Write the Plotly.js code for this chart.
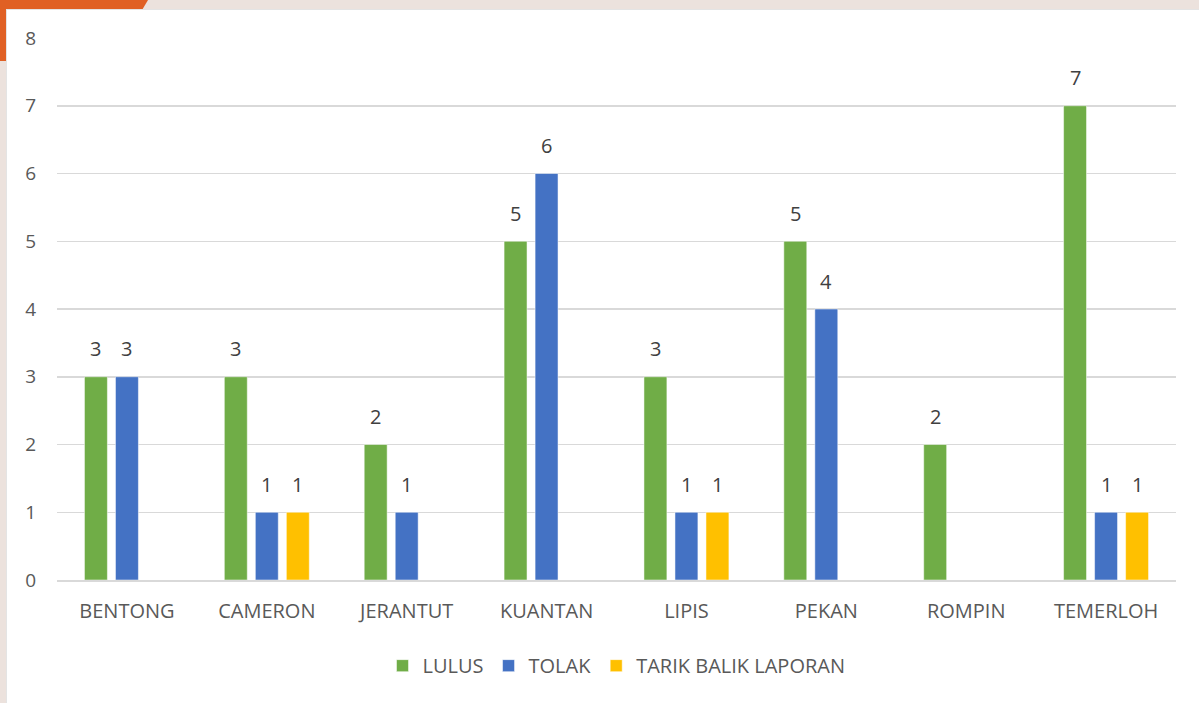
<!DOCTYPE html>
<html>
<head>
<meta charset="utf-8">
<script src="https://cdn.plot.ly/plotly-3.0.1.min.js"></script>
<style>
  html, body { margin: 0; padding: 0; width: 1199px; height: 703px; overflow: hidden; background: #ECE2DD; }
  #orangeTop { position: absolute; left: 0; top: 0; width: 148px; height: 10px; background: #E06024;
               clip-path: polygon(0 0, 100% 0, 96% 100%, 0 100%); }
  #orangeLeft { position: absolute; left: 0; top: 0; width: 6px; height: 61px; background: #E06024; }
  #panel { position: absolute; left: 6px; top: 9px; width: 1193px; height: 694px; background: #FFFFFF;
           border-left: 1px solid #E4E4E4; border-top: 1px solid #E4E4E4; box-sizing: border-box; }
  #chart { position: absolute; left: 0; top: 0; width: 1199px; height: 703px; }
</style>
</head>
<body>
<div id="orangeTop"></div>
<div id="orangeLeft"></div>
<div id="panel"></div>
<div id="chart"></div>
<script>
const categories = ["BENTONG", "CAMERON", "JERANTUT", "KUANTAN", "LIPIS", "PEKAN", "ROMPIN", "TEMERLOH"];
const lulus = [3, 3, 2, 5, 3, 5, 2, 7];
const tolak = [3, 1, 1, 6, 1, 4, null, 1];
const tarikBalik = [null, 1, null, null, 1, null, null, 1];
const seriesNames = ["LULUS", "TOLAK", "TARIK BALIK LAPORAN"];
const yTicks = [0, 1, 2, 3, 4, 5, 6, 7, 8];

const colors = ["#70AD47", "#4472C4", "#FFC000"];
const fontFam = "Open Sans, Liberation Sans, sans-serif";
const W = 1199, H = 703;
const margin = { l: 57, r: 23, t: 38, b: 123 };
const bargap = 0.335;

const seriesVals = [lulus, tolak, tarikBalik];

const data = seriesVals.map((vals, i) => ({
  type: "bar",
  name: seriesNames[i],
  x: categories,
  y: vals,
  marker: { color: colors[i], line: { color: "#FFFFFF", width: 0.5 } },
  hoverinfo: "x+y+name"
}));

// data labels as annotations so they can sit a little higher above each bar
const plotW = W - margin.l - margin.r;
const slot = plotW / categories.length * (1 - bargap) / seriesVals.length;
const annotations = [];
seriesVals.forEach((vals, i) => {
  vals.forEach((v, j) => {
    if (v === null) return;
    annotations.push({
      x: categories[j], y: v, xref: "x", yref: "y",
      text: String(v), showarrow: false,
      xshift: (i - (seriesVals.length - 1) / 2) * slot,
      yshift: 28, yanchor: "middle", xanchor: "center",
      font: { family: fontFam, size: 20, color: "#404040" }
    });
  });
});

const layout = {
  width: W,
  height: H,
  paper_bgcolor: "rgba(0,0,0,0)",
  plot_bgcolor: "rgba(0,0,0,0)",
  margin: margin,
  barmode: "group",
  bargap: bargap,
  bargroupgap: 0.26,
  font: { family: fontFam, color: "#595959", size: 20 },
  xaxis: {
    type: "category",
    showgrid: false,
    showline: true,
    linecolor: "#D9D9D9",
    linewidth: 1.5,
    ticks: "",
    ticklabelstandoff: 12,
    tickfont: { family: fontFam, size: 20, color: "#595959" }
  },
  yaxis: {
    range: [0, 8],
    tickvals: yTicks,
    ticktext: yTicks.map(String),
    showgrid: true,
    gridcolor: "#D9D9D9",
    gridwidth: 1.5,
    zeroline: false,
    showline: false,
    ticks: "",
    ticklabelstandoff: 20,
    tickfont: { family: fontFam, size: 19, color: "#595959" }
  },
  annotations: annotations,
  showlegend: true,
  legend: {
    orientation: "h",
    x: 0.5,
    xanchor: "center",
    y: -0.158,
    yanchor: "middle",
    font: { family: fontFam, size: 20, color: "#595959" },
    itemwidth: 30,
    traceorder: "normal"
  }
};

Plotly.newPlot("chart", data, layout, { displayModeBar: false, staticPlot: true });
</script>
</body>
</html>
